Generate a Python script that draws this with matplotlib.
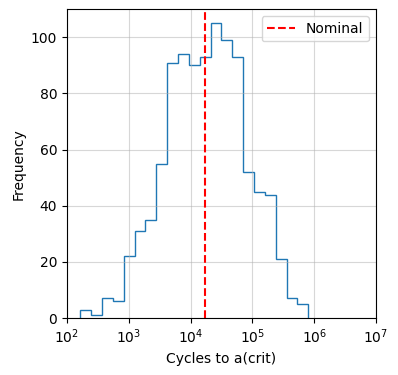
import numpy as np
import matplotlib.pyplot as plt
from matplotlib.ticker import NullLocator

# histogram counts, log-spaced bins
counts = [3, 1, 7, 6, 22, 31, 35, 55, 91, 94, 90, 93, 105, 99, 93, 52, 45, 44, 21, 7, 5]
bin_lo, bin_hi = 2.215, 5.905  # log10 of first/last edge
nominal = 1.7e4

edges = np.logspace(bin_lo, bin_hi, len(counts) + 1)

fig = plt.figure(figsize=(3.98, 3.75), dpi=100)
ax = fig.add_axes([67 / 398, 1 - 318 / 375, (376 - 67) / 398, (318 - 9.3) / 375])
ax.stairs(counts, edges, color="C0", lw=1)
ax.axvline(nominal, color="red", ls="--", label="Nominal")
ax.set_xscale("log")
ax.xaxis.set_minor_locator(NullLocator())
ax.set_xlim(1e2, 1e7)
ax.set_ylim(0, 110)
ax.grid(alpha=0.5)
ax.set_xlabel("Cycles to a(crit)")
ax.set_ylabel("Frequency")
ax.legend(loc="upper right")
fig.savefig("out.png")
